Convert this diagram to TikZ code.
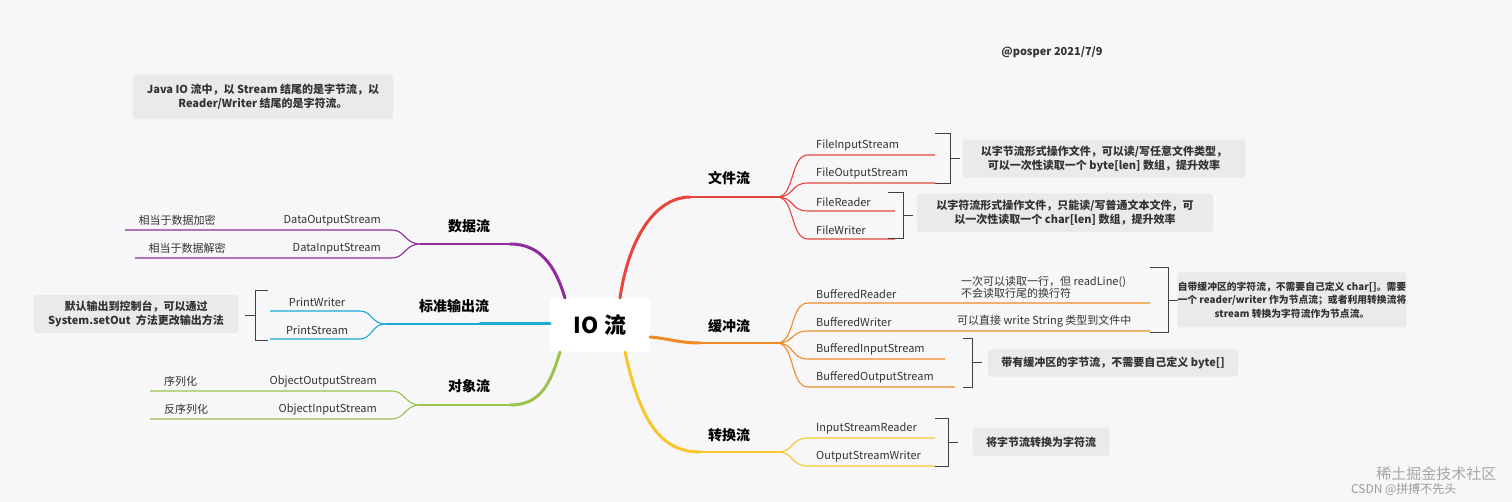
\documentclass[tikz,border=0pt]{standalone}
\usepackage{fontspec}
\setmainfont{Noto Sans CJK SC}
\definecolor{bg}{HTML}{F7F7F9}
\definecolor{cred}{HTML}{E8453C}
\definecolor{corange}{HTML}{F08A24}
\definecolor{cyellow}{HTML}{F8C52B}
\definecolor{cpurple}{HTML}{8E2C9C}
\definecolor{ccyan}{HTML}{1AAAD6}
\definecolor{cgreen}{HTML}{9BC34A}
\definecolor{notebg}{HTML}{EAEAEA}
\definecolor{txt}{HTML}{333333}
\begin{document}
\begin{tikzpicture}[x=1pt,y=-1pt,
  trunk/.style={line width=3pt,line cap=round},
  branch/.style={line width=1.5pt},
  twig/.style={line width=1.1pt},
  leaf/.style={font=\fontsize{11}{13}\selectfont,text=txt,inner sep=1pt},
  mainlbl/.style={font=\fontsize{14}{16}\selectfont\bfseries,text=black},
  note/.style={fill=notebg,rounded corners=3pt,font=\fontsize{11}{14}\selectfont\bfseries,text=txt,align=center,inner sep=0pt},
  brk/.style={draw=black!75,line width=0.9pt}]
\fill[bg] (0,0) rectangle (1512,502);
\useasboundingbox (0,0) rectangle (1512,502);

% center
\node[fill=white,rounded corners=4pt,minimum width=100pt,minimum height=54pt,font=\fontsize{22}{24}\selectfont\bfseries] (io) at (600,325) {IO 流};

% top notes
\node[note,minimum width=260pt,minimum height=45pt] (n0) at (263,97) {Java IO 流中，以 Stream 结尾的是字节流，以\\Reader/Writer 结尾的是字符流。};
\node[font=\fontsize{11}{13}\selectfont\bfseries,text=txt] (sig) at (1052,52) {@posper 2021/7/9};

% ---------- 文件流 ----------
\coordinate (fA) at (620,298); \coordinate (fB) at (690,197); \coordinate (fF) at (777,197);
\draw[trunk,cred] (fA) .. controls (630,230) and (660,197) .. (fB);
\draw[branch,cred] (fB) -- (fF);
\node[mainlbl] (wj) at (729,178) {文件流};
\foreach \y/\e/\t [count=\i] in {155/935/FileInputStream,183/935/FileOutputStream,211/895/FileReader,239/895/FileWriter}{
  \coordinate (fs\i) at (808,\y); \coordinate (fe\i) at (\e,\y);
  \draw[twig,cred] (fF) .. controls (795,197) and (790,\y) .. (fs\i) -- (fe\i);
  \node[leaf,anchor=south west] (fl\i) at (815,\y-3) {\t};
}
\draw[brk] (935,133) -- (950,133) -- (950,183) -- (935,183) (950,158) -- (960,158);
\node[note,minimum width=283pt,minimum height=38pt] (n1) at (1104,159) {以字节流形式操作文件，可以读/写任意文件类型，\\可以一次性读取一个 byte[len] 数组，提升效率};
\draw[brk] (888,192) -- (903,192) -- (903,238) -- (888,238) (903,215) -- (913,215);
\node[note,minimum width=296pt,minimum height=39pt] (n2) at (1065,213) {以字符流形式操作文件，只能读/写普通文本文件，可\\以一次性读取一个 char[len] 数组，提升效率};

% ---------- 缓冲流 ----------
\coordinate (bA) at (650,337); \coordinate (bB) at (700,343); \coordinate (bF) at (777,343);
\draw[trunk,corange] (bA) .. controls (665,338) and (680,343) .. (bB);
\draw[branch,corange] (bB) -- (bF);
\node[mainlbl] (hc) at (729,326) {缓冲流};
\foreach \y/\e/\t [count=\i] in {303/1150/BufferedReader,331/1150/BufferedWriter,359/945/BufferedInputStream,387/955/BufferedOutputStream}{
  \coordinate (bs\i) at (808,\y); \coordinate (be\i) at (\e,\y);
  \draw[twig,corange] (bF) .. controls (795,343) and (790,\y) .. (bs\i) -- (be\i);
  \node[leaf,anchor=south west] (bl\i) at (815,\y-3) {\t};
}
\node[leaf,align=left,anchor=south west,font=\fontsize{11}{12}\selectfont] (br1) at (960,300) {一次可以读取一行，但 readLine()\\不会读取行尾的换行符};
\node[leaf,anchor=south west] (br2) at (956,328) {可以直接 write String 类型到文件中};
\draw[brk] (1150,267) -- (1168,267) -- (1168,332) -- (1150,332) (1168,300) -- (1178,300);
\node[note,minimum width=214pt,minimum height=55pt,font=\fontsize{9.8}{13.5}\selectfont\bfseries] (n3) at (1292,300) {自带缓冲区的字符流，不需要自己定义 char[]。需要\\一个 reader/writer 作为节点流；或者利用转换流将\\stream 转换为字符流作为节点流。};
\draw[brk] (963,338) -- (972,338) -- (972,387) -- (963,387) (972,362) -- (982,362);
\node[note,minimum width=250pt,minimum height=27pt] (n4) at (1113,363) {带有缓冲区的字节流，不需要自己定义 byte[]};

% ---------- 转换流 ----------
\coordinate (zA) at (625,352); \coordinate (zB) at (700,452); \coordinate (zF) at (777,452);
\draw[trunk,cyellow] (zA) .. controls (640,420) and (660,452) .. (zB);
\draw[branch,cyellow] (zB) -- (zF);
\node[mainlbl] (zh) at (729,435) {转换流};
\foreach \y/\t [count=\i] in {438/InputStreamReader,466/OutputStreamWriter}{
  \coordinate (zs\i) at (808,\y); \coordinate (ze\i) at (935,\y);
  \draw[twig,cyellow] (zF) .. controls (795,452) and (790,\y) .. (zs\i) -- (ze\i);
  \node[leaf,anchor=south west] (zl\i) at (815,\y-3) {\t};
}
\draw[brk] (935,418) -- (948,418) -- (948,466) -- (935,466) (948,442) -- (958,442);
\node[note,minimum width=137pt,minimum height=28pt] (n5) at (1041,442) {将字节流转换为字符流};

% ---------- 数据流 ----------
\coordinate (dA) at (565,298); \coordinate (dB) at (510,244); \coordinate (dF) at (420,244);
\draw[trunk,cpurple] (dA) .. controls (555,265) and (540,244) .. (dB);
\draw[branch,cpurple] (dB) -- (dF);
\node[mainlbl] (sj) at (469,226) {数据流};
\foreach \y/\s/\t/\u [count=\i] in {230/125/DataOutputStream/相当于数据加密,258/135/DataInputStream/相当于数据解密}{
  \coordinate (ds\i) at (392,\y); \coordinate (de\i) at (\s,\y);
  \draw[twig,cpurple] (dF) .. controls (405,244) and (405,\y) .. (ds\i) -- (de\i);
  \node[leaf,anchor=south east] (dl\i) at (382,\y-3) {\t};
  \node[leaf,anchor=south] (du\i) at (\s+52,\y-3) {\u};
}

% ---------- 标准输出流 ----------
\coordinate (pA) at (550,324); \coordinate (pF) at (385,324);
\draw[trunk,ccyan] (pA) -- (480,324);
\draw[branch,ccyan] (480,324) -- (pF);
\node[mainlbl] (bz) at (454,306) {标准输出流};
\foreach \y/\t [count=\i] in {311/PrintWriter,339/PrintStream}{
  \coordinate (ps\i) at (360,\y); \coordinate (pe\i) at (270,\y);
  \draw[twig,ccyan] (pF) .. controls (372,324) and (372,\y) .. (ps\i) -- (pe\i);
  \node[leaf,anchor=south] (pl\i) at (317,\y-3) {\t};
}
\draw[brk] (268,290) -- (255,290) -- (255,340) -- (268,340) (255,315) -- (245,315);
\node[note,minimum width=205pt,minimum height=38pt] (n6) at (136,314) {默认输出到控制台，可以通过\\System.setOut\ \ 方法更改输出方法};

% ---------- 对象流 ----------
\coordinate (oA) at (560,352); \coordinate (oB) at (510,405); \coordinate (oF) at (420,405);
\draw[trunk,cgreen] (oA) .. controls (550,385) and (540,405) .. (oB);
\draw[branch,cgreen] (oB) -- (oF);
\node[mainlbl] (dx) at (469,386) {对象流};
\foreach \y/\t/\u [count=\i] in {391/ObjectOutputStream/序列化,419/ObjectInputStream/反序列化}{
  \coordinate (os\i) at (392,\y); \coordinate (oe\i) at (150,\y);
  \draw[twig,cgreen] (oF) .. controls (405,405) and (405,\y) .. (os\i) -- (oe\i);
  \node[leaf,anchor=south east] (ol\i) at (378,\y-3) {\t};
  \node[leaf,anchor=south west] (ou\i) at (163,\y-3) {\u};
}

% watermark
\node[text=black!35,font=\fontsize{15}{16}\selectfont,anchor=east] (wm1) at (1500,474) {稀土掘金技术社区};
\node[text=black!40,font=\fontsize{12}{13}\selectfont,anchor=east] (wm2) at (1460,489) {CSDN @拼搏不先头};
\end{tikzpicture}
\end{document}
